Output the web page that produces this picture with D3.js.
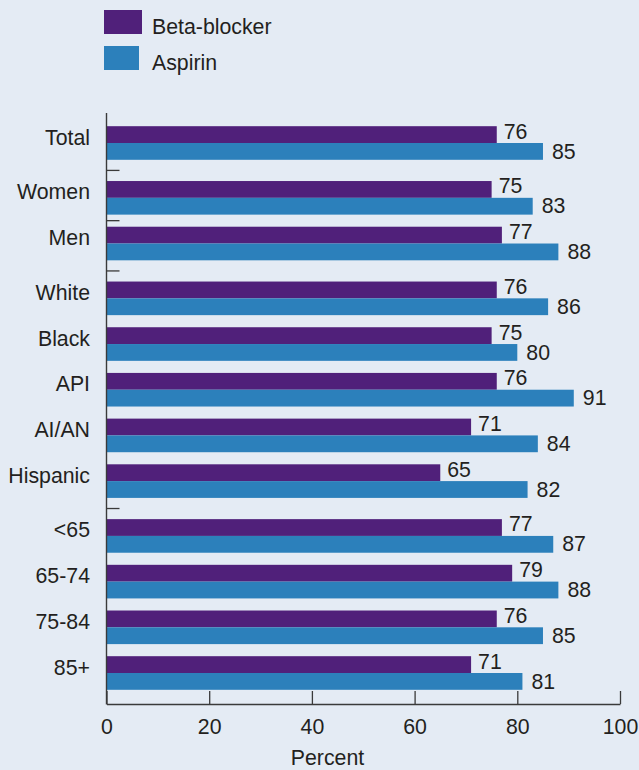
<!DOCTYPE html>
<html>
<head>
<meta charset="utf-8">
<script src="https://cdn.jsdelivr.net/npm/d3@7"></script>
<style>
  html, body { margin: 0; padding: 0; background: #e4ebf4; }
  svg { display: block; font-family: "Liberation Sans", Arial, Helvetica, sans-serif; }
</style>
</head>
<body>
<svg id="chart" width="639" height="770"></svg>
<script>
// ---- data ----
const categories = ["Total", "Women", "Men", "White", "Black", "API", "AI/AN", "Hispanic", "<65", "65-74", "75-84", "85+"];
const groups = ["Total", "Sex", "Sex", "Race", "Race", "Race", "Race", "Race", "Age", "Age", "Age", "Age"];
const betaBlocker = [76, 75, 77, 76, 75, 76, 71, 65, 77, 79, 76, 71];
const aspirin = [85, 83, 88, 86, 80, 91, 84, 82, 87, 88, 85, 81];
const seriesNames = ["Beta-blocker", "Aspirin"];
const xTicks = [0, 20, 40, 60, 80, 100];
const xLabel = "Percent";
const separatorsAfter = ["Total", "Women", "Men", "Hispanic"];

// ---- styles ----
const colors = ["#50207a", "#2c80bb"];
const textColor = "#231f20";
const axisColor = "#3a3a3a";
const fontSize = 21.3;

const svg = d3.select("#chart");

// x scale
const x = d3.scaleLinear().domain([0, 100]).range([106.5, 620]);

// y: slot positions with extra gap between groups
const gapRatio = 0.2;
const slots = [];
let acc = 0;
categories.forEach((c, i) => {
  if (i > 0) {
    acc += 1;
    if (groups[i] !== groups[i - 1]) acc += gapRatio;
  }
  slots.push(acc);
});
const y = d3.scaleLinear().domain([0, slots[slots.length - 1]]).range([143, 673]);
const barH = 16.8;

const rows = categories.map((c, i) => ({ cat: c, center: y(slots[i]), vals: [betaBlocker[i], aspirin[i]] }));

// bars
const g = svg.append("g");
rows.forEach(r => {
  r.vals.forEach((v, s) => {
    g.append("rect")
      .attr("x", x(0))
      .attr("y", s === 0 ? r.center - barH : r.center)
      .attr("width", x(v) - x(0))
      .attr("height", barH)
      .attr("fill", colors[s]);
    g.append("text")
      .attr("x", x(v) + (s === 0 ? 7 : 9))
      .attr("y", s === 0 ? r.center - 4.5 : r.center + 15.5)
      .attr("font-size", fontSize)
      .attr("fill", textColor)
      .text(v);
  });
  g.append("text")
    .attr("x", 90)
    .attr("y", r.center + 1.5)
    .attr("text-anchor", "end")
    .attr("font-size", fontSize)
    .attr("fill", textColor)
    .text(r.cat);
});

// y axis line
svg.append("line")
  .attr("x1", x(0)).attr("x2", x(0))
  .attr("y1", 113).attr("y2", 704.5)
  .attr("stroke", axisColor).attr("stroke-width", 1.4);

// separator ticks
separatorsAfter.forEach(c => {
  const i = categories.indexOf(c);
  const yy = ((rows[i].center + barH) + (rows[i + 1].center - barH)) / 2;
  svg.append("line")
    .attr("x1", x(0)).attr("x2", x(0) + 13)
    .attr("y1", yy).attr("y2", yy)
    .attr("stroke", axisColor).attr("stroke-width", 1.3);
});

// x axis
const xAxis = d3.axisBottom(x).tickValues(xTicks).tickSizeInner(-13).tickSizeOuter(0).tickPadding(15);
const ax = svg.append("g").attr("transform", "translate(0,704)").call(xAxis);
ax.select(".domain").attr("stroke", axisColor).attr("stroke-width", 1.4);
ax.selectAll(".tick line").attr("stroke", axisColor).attr("stroke-width", 1.3);
ax.selectAll(".tick text")
  .attr("font-size", fontSize)
  .attr("font-family", "'Liberation Sans', Arial, sans-serif")
  .attr("fill", textColor);

svg.append("text")
  .attr("x", 327.5)
  .attr("y", 765)
  .attr("text-anchor", "middle")
  .attr("font-size", fontSize)
  .attr("fill", textColor)
  .text(xLabel);

// legend
const legend = svg.append("g");
const legendSw = [{ y: 10, w: 38 }, { y: 46, w: 35 }];
seriesNames.forEach((n, s) => {
  legend.append("rect")
    .attr("x", 104).attr("y", legendSw[s].y)
    .attr("width", legendSw[s].w).attr("height", 24)
    .attr("fill", colors[s]);
  legend.append("text")
    .attr("x", 152).attr("y", legendSw[s].y + 24)
    .attr("font-size", fontSize)
    .attr("fill", textColor)
    .text(n);
});
</script>
</body>
</html>
